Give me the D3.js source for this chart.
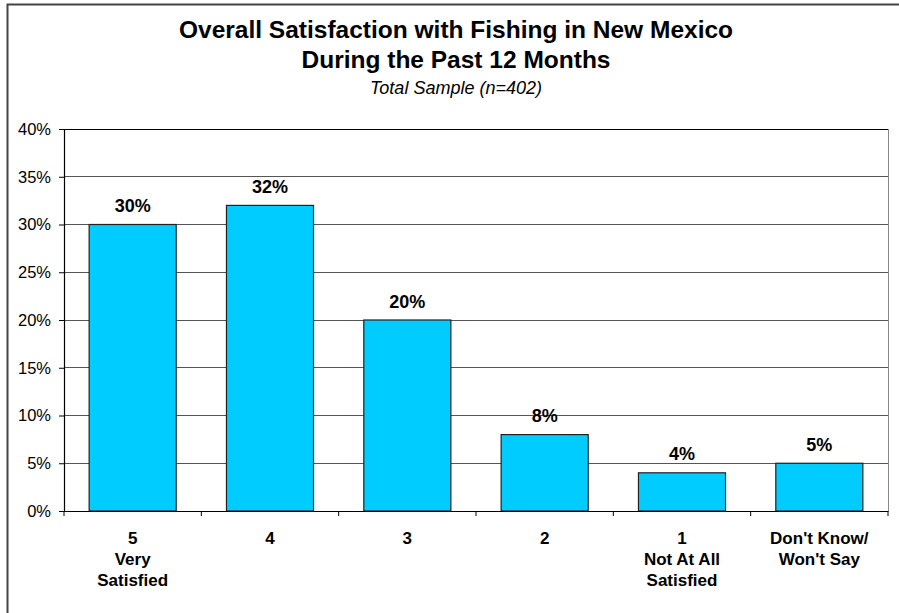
<!DOCTYPE html>
<html><head><meta charset="utf-8">
<script src="https://cdn.jsdelivr.net/npm/d3@7"></script>
<style>body{margin:0;background:#fff}svg{display:block;font-family:Arial,"Liberation Sans",sans-serif}</style>
</head><body><svg id="c" width="899" height="613"></svg>
<script>
const categories = ["5|Very|Satisfied", "4", "3", "2", "1|Not At All|Satisfied", "Don't Know/|Won't Say"];
const values = [30, 32, 20, 8, 4, 5];
const yTicks = [0, 5, 10, 15, 20, 25, 30, 35, 40];
const titleLines = ["Overall Satisfaction with Fishing in New Mexico", "During the Past 12 Months"];
const subtitle = "Total Sample (n=402)";

const svg = d3.select("#c");
const m = {left: 64, right: 888, top: 129, bottom: 511};

// outer frame
svg.append("path").attr("d", "M7.5,613 V4.5 H899").attr("fill", "none").attr("stroke", "#444").attr("stroke-width", 2);

const x = d3.scaleBand().domain(categories).range([m.left, m.right]).paddingInner(0.366).paddingOuter(0.183);
const y = d3.scaleLinear().domain([0, 40]).range([m.bottom, m.top]);

// gridlines
svg.append("g").selectAll("line").data(yTicks.filter(d => d > 0)).join("line")
  .attr("x1", m.left).attr("x2", m.right).attr("y1", d => y(d)).attr("y2", d => y(d))
  .attr("stroke", d => d === 40 ? "#000" : "#555").attr("stroke-width", 1).attr("shape-rendering", "crispEdges");
// right border of plot
svg.append("line").attr("x1", m.right).attr("x2", m.right).attr("y1", m.top).attr("y2", m.bottom)
  .attr("stroke", "#888").attr("shape-rendering", "crispEdges");

// bars
svg.append("g").selectAll("rect").data(values).join("rect")
  .attr("x", (d, i) => x(categories[i])).attr("width", x.bandwidth())
  .attr("y", d => y(d)).attr("height", d => y(0) - y(d))
  .attr("fill", "#00CCFF").attr("stroke", "#222").attr("stroke-width", 1.2);

// value labels
svg.append("g").selectAll("text").data(values).join("text")
  .attr("x", (d, i) => x(categories[i]) + x.bandwidth() / 2).attr("y", d => y(d) - 12.5)
  .attr("text-anchor", "middle").attr("font-size", 18).attr("font-weight", "bold").attr("fill", "#000")
  .text(d => d + "%");

// y axis
const ya = svg.append("g").attr("transform", `translate(${m.left},0)`)
  .call(d3.axisLeft(y).tickValues(yTicks).tickFormat(d => d + "%").tickSize(5).tickPadding(8));
ya.select(".domain").attr("stroke", "#000").attr("stroke-width", 1.2);
ya.selectAll(".tick line").attr("stroke", "#000");
ya.selectAll("text").attr("font-size", 16.5).attr("font-family", "Arial, 'Liberation Sans', sans-serif").attr("fill", "#000");

// x axis
const xa = svg.append("g").attr("transform", `translate(0,${m.bottom})`)
  .call(d3.axisBottom(x).tickSize(0).tickFormat(""));
xa.select(".domain").attr("stroke", "#000").attr("stroke-width", 1.2);
// boundary ticks
const step = x.step();
svg.append("g").selectAll("line").data(d3.range(categories.length + 1)).join("line")
  .attr("x1", i => m.left + i * step).attr("x2", i => m.left + i * step)
  .attr("y1", m.bottom).attr("y2", m.bottom + 5).attr("stroke", "#000");
// category labels
const cl = svg.append("g").selectAll("text").data(categories).join("text")
  .attr("text-anchor", "middle").attr("font-size", 17).attr("font-weight", "bold").attr("fill", "#000");
cl.each(function(d) {
  const t = d3.select(this);
  const cx = x(d) + x.bandwidth() / 2;
  d.split("|").forEach((s, k) => {
    t.append("tspan").attr("x", cx).attr("y", 544 + k * 21).text(s);
  });
});

// titles
svg.append("g").selectAll("text").data(titleLines).join("text")
  .attr("x", 456).attr("y", (d, i) => 37.5 + i * 30).attr("text-anchor", "middle")
  .attr("font-size", 24.5).attr("font-weight", "bold").attr("fill", "#000").text(d => d);
svg.append("text").attr("x", 456).attr("y", 94).attr("text-anchor", "middle")
  .attr("font-size", 18).attr("font-style", "italic").attr("fill", "#000").text(subtitle);
</script></body></html>
